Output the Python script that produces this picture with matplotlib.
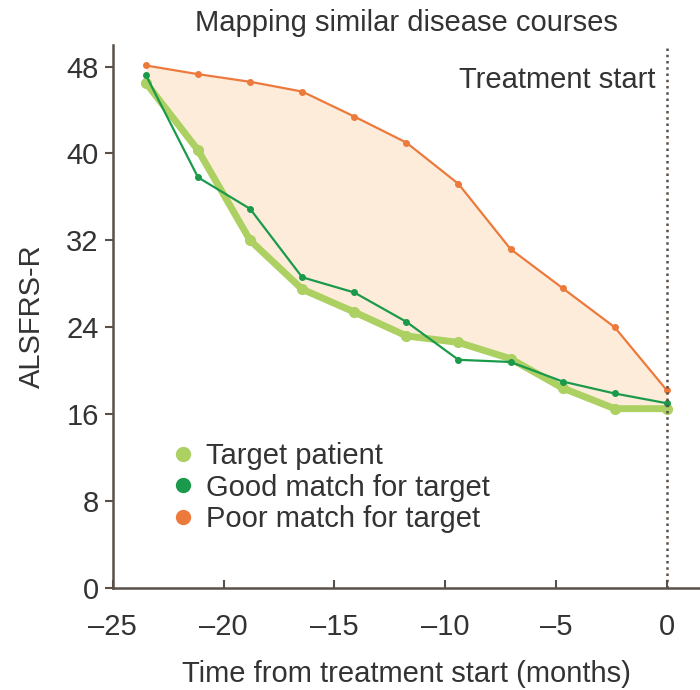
import matplotlib
matplotlib.use("Agg")
import matplotlib.pyplot as plt
from matplotlib.lines import Line2D

plt.rcParams['font.family'] = ['Liberation Sans', 'DejaVu Sans']

# months before treatment start
months = [-23.5, -21.15, -18.8, -16.45, -14.1, -11.75, -9.4, -7.05, -4.7, -2.35, 0.0]

# ALSFRS-R scores
target = [46.5, 40.3, 32.0, 27.5, 25.4, 23.2, 22.6, 21.1, 18.4, 16.5, 16.5]
good_match = [47.2, 37.8, 34.9, 28.6, 27.2, 24.5, 21.0, 20.8, 19.0, 17.9, 17.0]
poor_match = [48.1, 47.3, 46.6, 45.7, 43.4, 41.0, 37.2, 31.2, 27.6, 24.0, 18.2]

yticks = [0, 8, 16, 24, 32, 40, 48]
xticks = [-25, -20, -15, -10, -5, 0]
labels = ["Target patient", "Good match for target", "Poor match for target"]

c_target = "#acd062"
c_good = "#1a9a4a"
c_poor = "#ec7a3c"
c_fill = "#feecda"
c_axis = "#5a5048"
c_text = "#333333"
fs = 21

fig = plt.figure(figsize=(7, 6.9), dpi=100)
ax = fig.add_axes([0.161, 0.148, 0.839, 0.787])

ax.fill_between(months, target, poor_match, color=c_fill, lw=0, zorder=1)
ax.plot(months, poor_match, color=c_poor, lw=1.6, marker="o", ms=4, zorder=3)
ax.plot(months, target, color=c_target, lw=5, marker="o", ms=7, zorder=2,
        solid_joinstyle="round")
ax.plot(months, good_match, color=c_good, lw=1.6, marker="o", ms=4, zorder=4)

ax.axvline(0, color=c_axis, ls=(0, (1, 1.5)), lw=1.8, zorder=5)
ax.text(-0.5, 46.8, "Treatment start", ha="right", va="center",
        fontsize=fs, color=c_text)

ax.set_xlim(-25, 1.5)
ax.set_ylim(0, 50)
ax.set_xticks(xticks)
ax.set_xticklabels([str(v).replace("-", "\u2013") for v in xticks])
ax.set_yticks(yticks)

for s in ["top", "right"]:
    ax.spines[s].set_visible(False)
for s in ["left", "bottom"]:
    ax.spines[s].set_color(c_axis)
    ax.spines[s].set_linewidth(1.8)

ax.tick_params(axis="x", direction="in", length=6, width=1.5, color=c_axis,
               labelsize=fs, labelcolor=c_text, pad=18)
ax.tick_params(axis="y", direction="out", length=6, width=1.5, color=c_axis,
               labelsize=fs, labelcolor=c_text, pad=4)

ax.set_xlabel("Time from treatment start (months)", fontsize=fs, color=c_text,
              labelpad=14)
ax.set_ylabel("ALSFRS-R", fontsize=fs, color=c_text, labelpad=15)
ax.set_title("Mapping similar disease courses", fontsize=fs, color=c_text, pad=10)

# legend with dot handles
handles = [Line2D([], [], ls="", marker="o", ms=10, color=c) for c in (c_target, c_good, c_poor)]
ax.legend(handles, labels, loc="upper left", bbox_to_anchor=(0.075, 0.29),
          frameon=False, fontsize=fs, handletextpad=0.3, labelspacing=0.12,
          handlelength=1.0, labelcolor=c_text, borderaxespad=0)

fig.savefig("out.png", dpi=100)
